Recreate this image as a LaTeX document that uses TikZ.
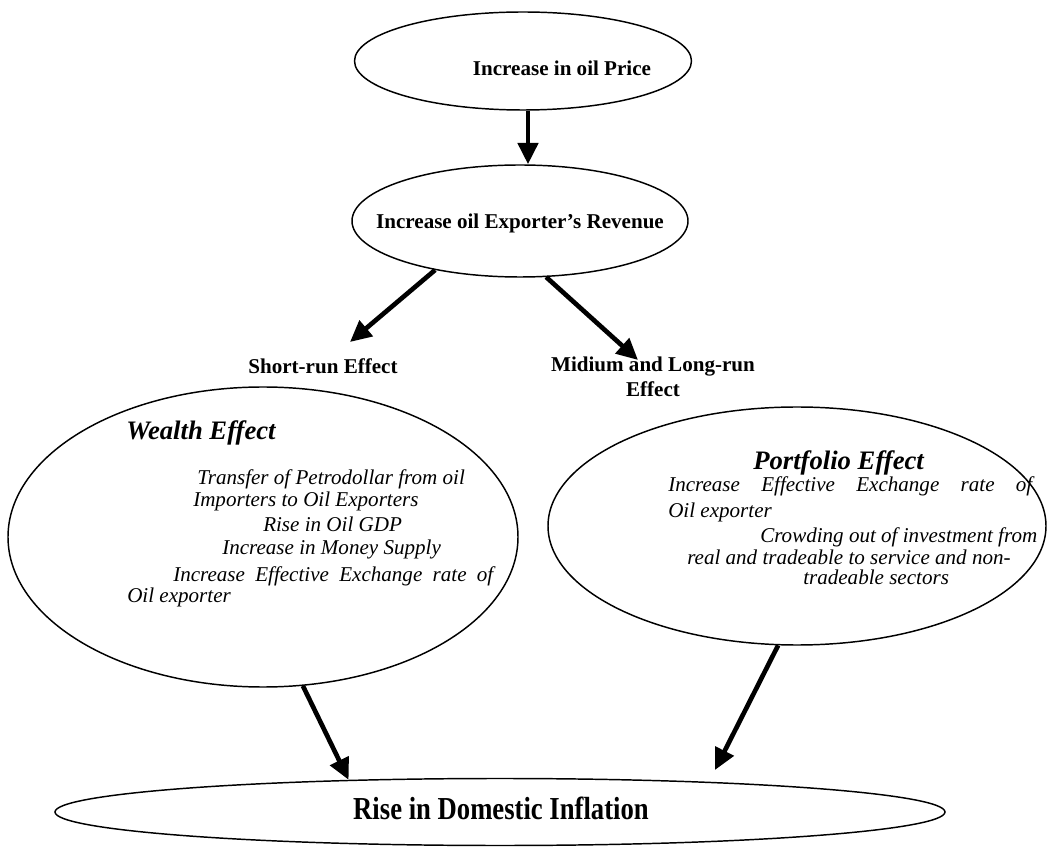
\documentclass[tikz,border=0pt]{standalone}
\usepackage{fontspec}
\setmainfont{Liberation Serif}
\usetikzlibrary{shapes.geometric,arrows.meta}

\begin{document}
\begin{tikzpicture}[x=0.75pt, y=-0.75pt,
    oval/.style={draw, ellipse, line width=1.1pt, inner sep=0pt},
    lbl/.style={font=\fontsize{15.8}{18.75}\selectfont\bfseries, inner sep=0pt},
    item/.style={font=\fontsize{15.8}{18}\selectfont\itshape, anchor=base west, inner sep=0pt},
    ttl/.style={font=\fontsize{20}{24}\selectfont\bfseries\itshape, anchor=base west, inner sep=0pt},
    push/.style={line width=3.5pt, -{Triangle[length=16pt,width=15pt]}}]
        \useasboundingbox (0,0) rectangle (1047,848);
        % ovals
        \node[oval, minimum width=252.75pt, minimum height=73.5pt] (price) at (523,61) {};
        \node[oval, minimum width=252pt, minimum height=84pt] (rev) at (520,221) {};
        \node[oval, minimum width=382.5pt, minimum height=225pt] (wealth) at (263,537) {};
        \node[oval, minimum width=373.5pt, minimum height=178.5pt] (port) at (797,526) {};
        \node[oval, minimum width=667.5pt, minimum height=50.25pt] (infl) at (500,812) {};
        % labels
        \node[lbl] (pricetxt) at (562,68) {Increase in oil Price};
        \node[lbl] (revtxt) at (520,223) {Increase oil Exporter’s Revenue};
        \node[lbl] (short) at (323,366) {Short-run Effect};
        \node[lbl, align=center] (long) at (653,377) {Midium and Long-run\\Effect};
        \node[lbl, anchor=base, font=\fontsize{20}{24}\selectfont\bfseries] (infltxt) at (501,819) {\scalebox{1}[1.2]{Rise in Domestic Inflation}};
        % wealth effect
        \node[ttl] (wtitle) at (126,440) {Wealth Effect};
        \node[item] (w1) at (197,485) {Transfer of Petrodollar from oil};
        \node[item] (w2) at (193,507) {Importers to Oil Exporters};
        \node[item] (w3) at (263,532) {Rise in Oil GDP};
        \node[item] (w4) at (222,555) {Increase in Money Supply};
        \node[item] (w5) at (173,582) {\makebox[240pt][s]{Increase Effective Exchange rate of}};
        \node[item] (w6) at (127,603) {Oil exporter};
        % portfolio effect
        \node[ttl] (ptitle) at (753,470) {Portfolio Effect};
        \node[item] (p1) at (668,492) {\makebox[273pt][s]{Increase Effective Exchange rate of}};
        \node[item] (p2) at (668,518) {Oil exporter};
        \node[item] (p3) at (760,543) {Crowding out of investment from};
        \node[item] (p4) at (687,565) {real and tradeable to service and non-};
        \node[item] (p5) at (803,585) {tradeable sectors};
        % arrows
        \coordinate (down) at ([xshift=3.75pt]price.south);
        \coordinate (shorttip) at (350,342);
        \coordinate (longtip) at (638,360);
        \coordinate (porttip) at (715,770);
        \draw[push] (down) -- (down |- rev.north);
        \draw[push] (rev.210) -- (shorttip);
        \draw[push] (rev.295) -- (longtip);
        \draw[push] (wealth.285) -- (infl.168);
        \draw[push] (port.261) -- (porttip);
\end{tikzpicture}
\end{document}
